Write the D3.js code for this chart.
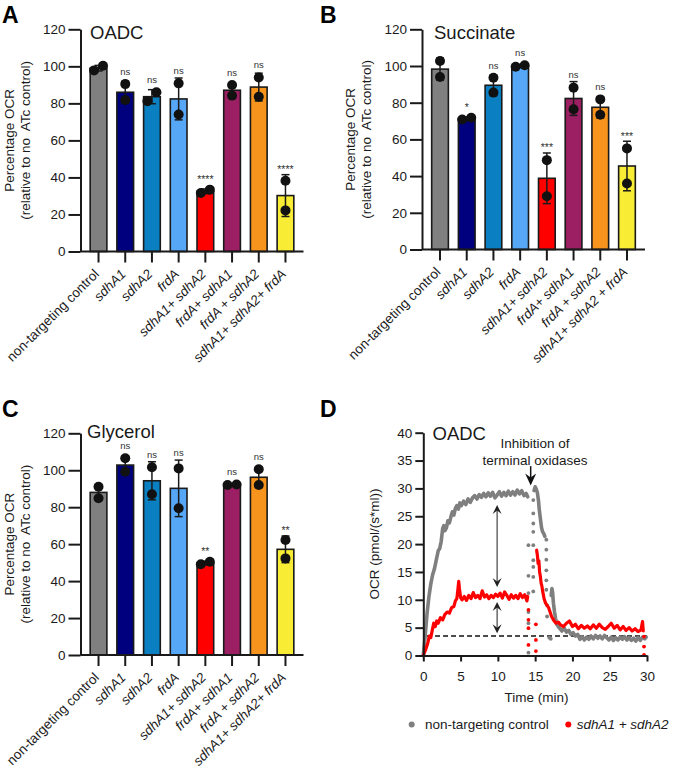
<!DOCTYPE html>
<html><head><meta charset="utf-8">
<script src="https://cdn.jsdelivr.net/npm/d3@7/dist/d3.min.js"></script>
<style>
body{margin:0;background:#fff;}
svg{font-family:Arial,"Liberation Sans",Helvetica,sans-serif;}
</style></head><body>
<svg id="fig" width="675" height="770"></svg>
<script>
// ---------------- DATA ----------------
const categoriesAC = ["non-targeting control","sdhA1","sdhA2","frdA","sdhA1+ sdhA2","frdA+ sdhA1","frdA + sdhA2","sdhA1+ sdhA2+ frdA"];
const categoriesB  = ["non-targeting control","sdhA1","sdhA2","frdA","sdhA1+ sdhA2","frdA+ sdhA1","frdA + sdhA2","sdhA1+ sdhA2 + frdA"];
const barColors = ["#808080","#00007f","#0a80c2","#56a8f7","#ff0000","#9b1f62","#f7941d","#f8ec34"];
const yTicksBar = [0,20,40,60,80,100,120];

const oadcMeans  = [99.0, 86.0, 83.6, 82.4, 32.5, 87.1, 88.8, 30.2];
const oadcErr    = [1.5, 6.0, 3.8, 11.3, 1.3, 4.0, 7.5, 11.3];
const oadcPoints = [[97.8,100.3],[90.4,81.8],[81.2,86.0],[90.8,74.0],[31.6,33.4],[89.9,84.2],[94.0,83.6],[38.2,22.2]];
const oadcSig    = ["","ns","ns","ns","****","ns","ns","****"];

const succMeans  = [98.3, 71.3, 89.5, 100.0, 38.8, 82.3, 77.5, 45.5];
const succErr    = [6.0, 1.0, 5.5, 0.8, 13.8, 9.2, 5.8, 13.5];
const succPoints = [[102.7,94.0],[70.8,71.8],[93.6,85.5],[99.6,100.4],[48.7,29.0],[88.2,76.4],[81.8,73.4],[55.1,36.0]];
const succSig    = ["","*","ns","ns","***","ns","ns","***"];

const glyMeans  = [88.0, 102.8, 94.3, 90.2, 49.8, 92.1, 96.2, 57.2];
const glyErr    = [4.0, 5.0, 10.3, 15.3, 1.0, 0.4, 5.5, 7.2];
const glyPoints = [[91.1,84.8],[106.5,99.2],[101.6,87.0],[101.0,79.4],[49.1,50.5],[92.0,92.3],[100.5,92.0],[62.2,52.3]];
const glySig    = ["","ns","ns","ns","**","ns","ns","**"];

// Panel D: OCR time course (time in min, OCR in pmol/(s*ml))
const yTicksD = [0,5,10,15,20,25,30,35,40];
const xTicksD = [0,5,10,15,20,25,30];
const ctrlSeg1 = [[0,0],[0.25,3.5],[0.5,7.5],[0.75,10.5],[1.0,12.8],[1.25,14.5],[1.5,15.6],[1.75,17.2],[2.0,18.8],[2.2,19.2],[2.4,20.5],[2.6,22.8],[2.75,23.3],[2.9,22.4],[3.1,22.9],[3.3,24.2],[3.5,23.8],[3.7,24.9],[3.9,25.8],[4.1,25.2],[4.3,26.4],[4.5,26.9],[4.7,26.3],[4.9,27.4],[5.1,26.9],[5.4,27.7],[5.7,27.1],[6.0,28.1],[6.3,27.5],[6.6,28.3],[6.9,28.7],[7.2,28.1],[7.5,28.9],[7.8,28.4],[8.1,29.1],[8.4,28.5],[8.7,29.2],[9.0,28.6],[9.3,29.3],[9.6,28.3],[9.9,28.8],[10.2,29.4],[10.5,28.6],[10.8,29.3],[11.1,28.7],[11.4,29.5],[11.7,28.8],[12.0,29.4],[12.3,28.8],[12.6,29.7],[12.9,29.0],[13.2,29.6],[13.5,28.7],[13.8,29.1],[14.0,28.5]];
const ctrlSeg2 = [[14.85,29.6],[15.0,30.3],[15.15,29.9],[15.3,29.2],[15.45,27.8],[15.55,26.2],[15.7,24.6],[15.85,23.0],[16.0,22.2],[16.15,21.9],[16.3,21.4]];
const ctrlSeg3 = [[17.15,10.8],[17.25,12.0],[17.35,11.2],[17.45,9.4],[17.6,7.8],[17.75,6.6],[17.9,5.6],[18.1,5.2],[18.35,4.8],[18.6,4.4],[18.9,4.9],[19.2,4.2],[19.5,4.5],[19.8,3.8],[20.1,4.1],[20.4,3.5],[20.7,3.8],[21.0,2.9],[21.3,3.4],[21.6,2.8],[21.9,3.3],[22.2,2.9],[22.5,3.5],[22.8,3.0],[23.1,3.6],[23.4,3.1],[23.7,3.5],[24.0,3.0],[24.3,3.6],[24.6,3.2],[24.9,2.8],[25.2,3.3],[25.5,2.7],[25.8,3.2],[26.1,2.8],[26.4,3.3],[26.7,2.9],[27.0,3.4],[27.3,2.8],[27.6,3.2],[27.9,2.7],[28.2,3.1],[28.5,2.6],[28.8,3.2],[29.1,2.7],[29.4,3.3],[29.7,3.0],[29.9,3.3]];
const ctrlDots = [[14.1,19.8],[14.1,14.3],[14.1,11.2],[14.1,7.8],[14.1,5.8],[14.1,0.5],[14.75,27.9],[14.75,25.5],[14.75,23.7],[14.75,22.2],[14.75,19.8],[14.75,17.1],[14.75,15.9],[14.75,14.1],[14.75,11.5],[16.5,20.8],[16.5,19.0],[16.5,17.2],[16.5,15.3],[16.5,13.5],[16.5,11.8],[16.6,9.0],[16.6,7.0],[16.9,3.2],[17.1,3.0]];
const caseSeg1 = [[0,0],[0.3,1.0],[0.6,2.2],[0.8,3.5],[1.0,3.2],[1.2,4.5],[1.4,5.8],[1.6,5.2],[1.8,6.2],[2.0,5.8],[2.3,6.8],[2.6,6.4],[2.9,7.4],[3.2,7.8],[3.5,7.6],[3.8,8.6],[4.1,8.8],[4.3,9.8],[4.5,10.2],[4.65,12.0],[4.75,13.3],[4.85,12.0],[5.0,10.4],[5.2,10.0],[5.5,10.6],[5.8,9.9],[6.1,10.8],[6.4,10.2],[6.7,11.3],[7.0,10.4],[7.3,10.8],[7.6,10.2],[7.9,11.6],[8.2,10.5],[8.5,10.9],[8.8,10.2],[9.1,10.8],[9.4,10.4],[9.7,11.0],[10.0,10.6],[10.3,11.2],[10.6,10.3],[10.9,11.4],[11.2,10.8],[11.5,10.1],[11.8,10.9],[12.1,10.3],[12.4,10.8],[12.7,10.2],[13.0,11.1],[13.3,10.4],[13.6,10.9],[13.9,9.8],[14.0,10.6]];
const caseSeg2 = [[15.2,18.9],[15.3,18.0],[15.4,16.5],[15.5,17.0],[15.6,15.0],[15.7,14.2],[15.8,13.0],[15.9,12.5],[16.0,11.6],[16.2,10.2],[16.4,9.4],[16.6,9.0],[16.8,8.6],[17.0,7.8],[17.2,7.0],[17.5,6.3],[17.8,5.8],[18.1,6.0],[18.4,5.5],[18.8,5.2],[19.2,5.8],[19.6,6.2],[20.0,5.2],[20.4,5.6],[20.8,4.8],[21.2,5.4],[21.6,4.9],[22.0,5.3],[22.4,4.8],[22.8,5.5],[23.2,4.9],[23.6,5.6],[24.0,5.0],[24.4,4.7],[24.8,5.2],[25.2,5.8],[25.6,4.9],[26.0,5.4],[26.4,4.6],[26.8,5.2],[27.2,4.5],[27.6,5.0],[28.0,4.4],[28.4,4.8],[28.8,4.3],[29.2,4.6],[29.4,6.1],[29.5,4.4]];
const caseDots = [[14.1,8.2],[14.1,6.4],[14.1,4.9],[14.1,1.9],[15.1,5.6],[15.1,2.8],[15.1,0.8],[29.6,3.4],[29.6,1.6],[29.6,0.1]];
const baselineOCR = 3.5, baselineFrom = 0.5, baselineTo = 30;
const injectionTime = 14.4, injectionFrom = 34.0, injectionTo = 30.5;
const gapArrowTime = 9.9;
const gapArrow1 = [27.0, 12.3];
const gapArrow2 = [9.6, 4.0];

// ---------------- DRAW ----------------
const svg = d3.select("#fig");
const ink = "#1a1a1a";

function styleAxis(sel, fs){
  sel.select(".domain").attr("stroke", ink).attr("stroke-width", 2);
  sel.selectAll(".tick line").attr("stroke", ink).attr("stroke-width", 2);
  sel.selectAll(".tick text").attr("fill", ink).attr("font-size", fs)
     .attr("font-family", "Arial, 'Liberation Sans', Helvetica, sans-serif");
}

function barPanel(o){
  const g = svg.append("g");
  const y = d3.scaleLinear().domain([0,120]).range([o.bottom, o.top]);
  const x = d3.scaleBand().domain(d3.range(o.labels.length))
     .range([o.left, o.left + 223]).paddingInner(0.375).paddingOuter(0.3625);
  const bw = x.bandwidth();
  const cx = i => x(i) + bw/2;
  // bars
  g.selectAll("rect.bar").data(o.means).join("rect")
    .attr("x",(d,i)=>x(i)).attr("y",d=>y(d)).attr("width",bw).attr("height",d=>y(0)-y(d))
    .attr("fill",(d,i)=>barColors[i]).attr("stroke",ink).attr("stroke-width",1.6);
  // error bars
  o.means.forEach((m,i)=>{
    const e = o.err[i], c = cx(i);
    g.append("line").attr("x1",c).attr("x2",c).attr("y1",y(m-e)).attr("y2",y(m+e)).attr("stroke",ink).attr("stroke-width",1.5);
    [m-e, m+e].forEach(v=>g.append("line").attr("x1",c-4).attr("x2",c+4).attr("y1",y(v)).attr("y2",y(v)).attr("stroke",ink).attr("stroke-width",1.5));
  });
  // points
  const r = 5;
  o.points.forEach((pts,i)=>{
    const s = pts.slice().sort((a,b)=>a-b);
    const close = Math.abs(y(s[0]) - y(s[1])) < 10;
    s.forEach((v,k)=>{
      const dx = close ? (k===0 ? -4.5 : 4.5) : 0;
      g.append("circle").attr("cx",cx(i)+dx).attr("cy",y(v)).attr("r",r).attr("fill","#111");
    });
  });
  // significance
  o.sig.forEach((s,i)=>{
    if(!s) return;
    const top = Math.min(y(o.means[i]+o.err[i]), y(d3.max(o.points[i])) - r);
    const isStar = s[0]==="*";
    g.append("text").attr("x",cx(i)).attr("y", top - (isStar ? 1.5 : 4))
      .attr("text-anchor","middle").attr("font-size", isStar ? 10.5 : 9.5).attr("fill","#333").text(s);
  });
  // axes
  const ya = g.append("g").attr("transform",`translate(${o.left},0)`)
    .call(d3.axisLeft(y).tickValues(yTicksBar).tickSize(12).tickPadding(3).tickSizeOuter(0));
  styleAxis(ya, 13.5);
  const xa = g.append("g").attr("transform",`translate(0,${o.bottom})`)
    .call(d3.axisBottom(x).tickSize(11).tickSizeOuter(0).tickFormat(""));
  styleAxis(xa, 13.5);
  xa.select(".domain").attr("d",`M${o.left},0H${o.left+223}`);
  // x labels
  g.selectAll("text.xl").data(o.labels).join("text")
    .attr("transform",(d,i)=>`translate(${cx(i)-2},${o.bottom+20}) rotate(-45)`)
    .attr("text-anchor","end").attr("dy","0.35em").attr("font-size",13.5).attr("fill",ink)
    .attr("font-style",(d,i)=> i===0 ? "normal" : "italic").text(d=>d);
  // y title
  const my = (o.top + o.bottom)/2;
  [["Percentage OCR", o.yt1],["(relative to no  ATc control)", o.yt2]].forEach(([t,xx])=>{
    g.append("text").attr("transform",`translate(${xx},${my}) rotate(-90)`).attr("text-anchor","middle")
      .attr("font-size",13.5).attr("fill",ink).style("white-space","pre").text(t);
  });
  // title
  g.append("text").attr("x",o.titleX).attr("y",o.titleY).attr("font-size",18.5).attr("fill",ink).text(o.title);
  // panel letter
  g.append("text").attr("x",o.letterX).attr("y",o.letterY).attr("font-size",23).attr("font-weight","bold").attr("fill","#000").text(o.letter);
}

barPanel({left:80.5, top:29.3, bottom:251.5, labels:categoriesAC, means:oadcMeans, err:oadcErr, points:oadcPoints, sig:oadcSig,
  title:"OADC", titleX:90, titleY:38.5, yt1:13.5, yt2:30, letter:"A", letterX:2, letterY:23});
barPanel({left:422, top:29.3, bottom:249.5, labels:categoriesB, means:succMeans, err:succErr, points:succPoints, sig:succSig,
  title:"Succinate", titleX:434, titleY:38.5, yt1:354.5, yt2:371, letter:"B", letterX:320, letterY:23});
barPanel({left:80.5, top:433.3, bottom:655, labels:categoriesAC, means:glyMeans, err:glyErr, points:glyPoints, sig:glySig,
  title:"Glycerol", titleX:87, titleY:437.5, yt1:13.5, yt2:30, letter:"C", letterX:2, letterY:417});

// ---------- Panel D ----------
(function(){
  const g = svg.append("g");
  const x = d3.scaleLinear().domain([0,30]).range([423.3, 647]);
  const y = d3.scaleLinear().domain([0,40]).range([655.5, 432.7]);
  const line = d3.line().x(d=>x(d[0])).y(d=>y(d[1]));
  const grey = "#7f7f7f", red = "#ff0000";
  // baseline dashed
  g.append("line").attr("x1",x(baselineFrom)).attr("x2",x(baselineTo)).attr("y1",y(baselineOCR)).attr("y2",y(baselineOCR))
    .attr("stroke","#111").attr("stroke-width",1.6).attr("stroke-dasharray","5,3");
  // control series
  [ctrlSeg1, ctrlSeg2, ctrlSeg3].forEach(s=>g.append("path").attr("d",line(s)).attr("fill","none")
    .attr("stroke",grey).attr("stroke-width",3.6).attr("stroke-linejoin","round").attr("stroke-linecap","round"));
  g.selectAll("circle.cd").data(ctrlDots).join("circle").attr("cx",d=>x(d[0])).attr("cy",d=>y(d[1])).attr("r",1.9).attr("fill",grey);
  // case series
  [caseSeg1, caseSeg2].forEach(s=>g.append("path").attr("d",line(s)).attr("fill","none")
    .attr("stroke",red).attr("stroke-width",3.2).attr("stroke-linejoin","round").attr("stroke-linecap","round"));
  g.selectAll("circle.rd").data(caseDots).join("circle").attr("cx",d=>x(d[0])).attr("cy",d=>y(d[1])).attr("r",1.9).attr("fill",red);

  // double arrows
  function head(px, py, dir){ // dir: -1 points up, +1 points down
    const L = 9, W = 4.5, N = 5.5;
    return `M${px},${py} L${px-W},${py - dir*L} L${px},${py - dir*N} L${px+W},${py - dir*L} Z`;
  }
  [gapArrow1, gapArrow2].forEach(([a,b])=>{
    const xx = x(gapArrowTime);
    g.append("line").attr("x1",xx).attr("x2",xx).attr("y1",y(a)+4).attr("y2",y(b)-4).attr("stroke","#444").attr("stroke-width",1.2);
    g.append("path").attr("d",head(xx,y(a),-1)).attr("fill","#222");
    g.append("path").attr("d",head(xx,y(b),1)).attr("fill","#222");
  });
  // injection arrow
  const ix = x(injectionTime);
  g.append("line").attr("x1",ix).attr("x2",ix).attr("y1",y(injectionFrom)).attr("y2",y(injectionTo)-6).attr("stroke","#111").attr("stroke-width",1.5);
  g.append("path").attr("d",`M${ix},${y(injectionTo)} L${ix-5.5},${y(injectionTo)-12} L${ix},${y(injectionTo)-8} L${ix+5.5},${y(injectionTo)-12} Z`).attr("fill","#111");
  g.append("text").attr("x",535).attr("y",448).attr("text-anchor","middle").attr("font-size",13.5).attr("fill",ink).text("Inhibition of");
  g.append("text").attr("x",535).attr("y",465).attr("text-anchor","middle").attr("font-size",13.5).attr("fill",ink).text("terminal oxidases");

  // axes
  const ya = g.append("g").attr("transform",`translate(${x(0)},0)`)
    .call(d3.axisLeft(y).tickValues(yTicksD).tickSize(8).tickPadding(3).tickSizeOuter(0));
  styleAxis(ya, 13.5);
  const xa = g.append("g").attr("transform",`translate(0,${y(0)})`)
    .call(d3.axisBottom(x).tickValues(xTicksD).tickSize(6).tickPadding(10).tickSizeOuter(0));
  styleAxis(xa, 13.5);
  g.append("text").attr("x",536.5).attr("y",702).attr("text-anchor","middle").attr("font-size",13.5).attr("fill",ink).text("Time (min)");
  g.append("text").attr("transform",`translate(379,${(y(0)+y(40))/2}) rotate(-90)`).attr("text-anchor","middle")
    .attr("font-size",13.5).attr("fill",ink).text("OCR (pmol/(s*ml))");
  g.append("text").attr("x",432.5).attr("y",439.5).attr("font-size",18.5).attr("fill",ink).text("OADC");
  g.append("text").attr("x",320).attr("y",417).attr("font-size",23).attr("font-weight","bold").attr("fill","#000").text("D");

  // legend
  g.append("circle").attr("cx",411.7).attr("cy",724.5).attr("r",3).attr("fill",grey);
  g.append("text").attr("x",425).attr("y",729.3).attr("font-size",13.5).attr("fill",ink).text("non-targeting control");
  g.append("circle").attr("cx",568.3).attr("cy",724.5).attr("r",3).attr("fill",red);
  g.append("text").attr("x",576.7).attr("y",729.3).attr("font-size",13.5).attr("font-style","italic").attr("fill",ink).text("sdhA1 + sdhA2");
})();
</script>
</body></html>
